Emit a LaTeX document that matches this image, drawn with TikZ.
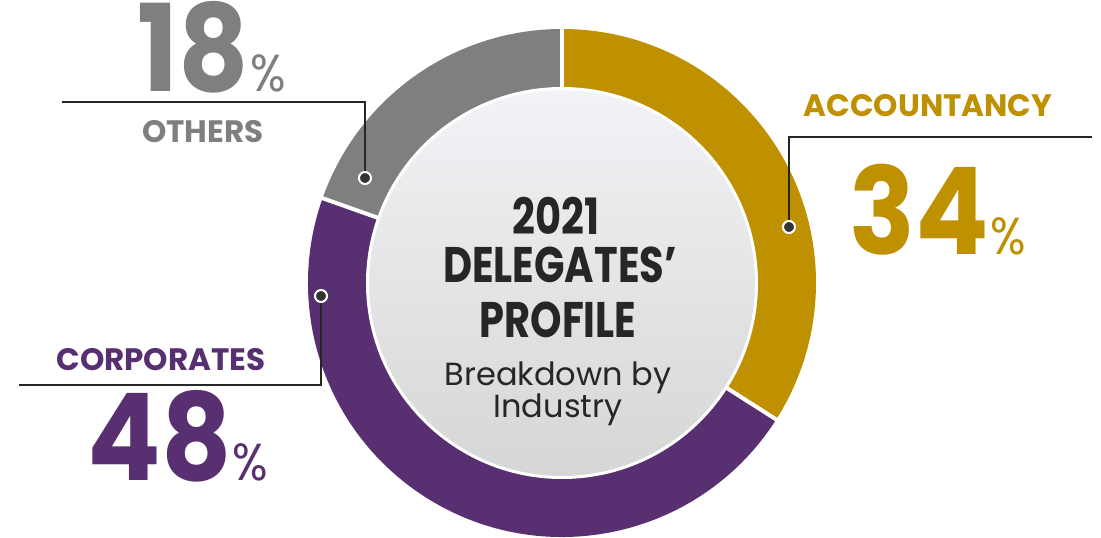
\documentclass[tikz,border=0pt]{standalone}
\usepackage{fontspec}
\setmainfont{Poppins}
\newfontfamily\numfont[FakeStretch=0.9]{Poppins}
\newfontfamily\titlefont[FakeStretch=0.8]{Poppins}
\usepackage{xcolor}
\usepackage{tikz}
\usetikzlibrary{positioning}
\definecolor{accgold}{RGB}{191,144,0}
\definecolor{corppurple}{RGB}{88,47,112}
\definecolor{othgray}{RGB}{127,127,127}
\definecolor{centertext}{RGB}{38,38,38}
\tikzstyle{leader} = [line width=1.3pt, draw=black!85]
\tikzstyle{pin} = [circle, fill=black!80, draw=white, line width=2pt, inner sep=0pt, minimum size=12pt]
\tikzstyle{bignum} = [anchor=base, inner sep=0pt, text height=86pt, text depth=0pt, font=\numfont\bfseries\fontsize{121}{121}\selectfont]
\tikzstyle{label} = [anchor=base, inner sep=0pt, text height=22pt, text depth=0pt, font=\bfseries\fontsize{31}{31}\selectfont]
\tikzstyle{title} = [anchor=base, inner sep=0pt, text=centertext, font=\titlefont\bfseries\fontsize{50}{50}\selectfont]
\tikzstyle{subtitle} = [anchor=base, inner sep=0pt, text=centertext, font=\fontsize{32}{32}\selectfont]
\newcommand{\pct}{\hspace{1pt}{\mdseries\fontsize{52}{52}\selectfont\%}}

\begin{document}
\begin{tikzpicture}
  \useasboundingbox (-562pt,-255pt) rectangle (539pt,283pt);

  % Ring
  \fill[accgold] (90:254pt) arc[start angle=90, end angle=-32.5, radius=254pt] -- (-32.5:190pt) arc[start angle=-32.5, end angle=90, radius=190pt] -- cycle;
  \fill[corppurple] (-32.5:254pt) arc[start angle=-32.5, end angle=-199.5, radius=254pt] -- (-199.5:190pt) arc[start angle=-199.5, end angle=-32.5, radius=190pt] -- cycle;
  \fill[othgray] (160.5:254pt) arc[start angle=160.5, end angle=90, radius=254pt] -- (90:190pt) arc[start angle=90, end angle=160.5, radius=190pt] -- cycle;
  \foreach \a in {90,-32.5,160.5}
    \draw[white, line width=4pt] (\a:185pt) -- (\a:260pt);

  % Centre
  \shade[top color={rgb,255:red,242;green,243;blue,246}, bottom color={rgb,255:red,214;green,214;blue,214}, draw=white, line width=3pt] (0,0) circle[radius=194.5pt];
  \node (year) [title] at (-6pt,48pt) {2021};
  \node (delegates) [title] at (-2pt,0pt) {DELEGATES’};
  \node (profile) [title] at (-4pt,-55pt) {PROFILE};
  \node (breakdown) [subtitle] at (-4pt,-102pt) {Breakdown by};
  \node (industry) [subtitle] at (-4pt,-134pt) {Industry};

  % Labels
  \node (othnum) [bignum, text=othgray] at (-350pt,191pt) {18\pct};
  \node (othname) [label, text=othgray] at (-359pt,140pt) {OTHERS};
  \node (accname) [label, text=accgold] at (366pt,166pt) {ACCOUNTANCY};
  \node (accnum) [bignum, text=accgold] at (376pt,28pt) {34\pct};
  \node (corpname) [label, text=corppurple] at (-401pt,-87pt) {CORPORATES};
  \node (corpnum) [bignum, text=corppurple] at (-384pt,-197pt) {48\pct};

  % Pins and leaders
  \node (othpin) [pin] at (-197pt,105pt) {};
  \node (accpin) [pin] at (227pt,56pt) {};
  \node (corppin) [pin] at (-241pt,-13pt) {};
  \coordinate (othend) at (-500pt,181pt);
  \coordinate (accend) at (530pt,146pt);
  \coordinate (corpend) at (-543pt,-102pt);
  \draw[leader] (othpin) |- (othend);
  \draw[leader] (accpin) |- (accend);
  \draw[leader] (corppin) |- (corpend);

\end{tikzpicture}
\end{document}
